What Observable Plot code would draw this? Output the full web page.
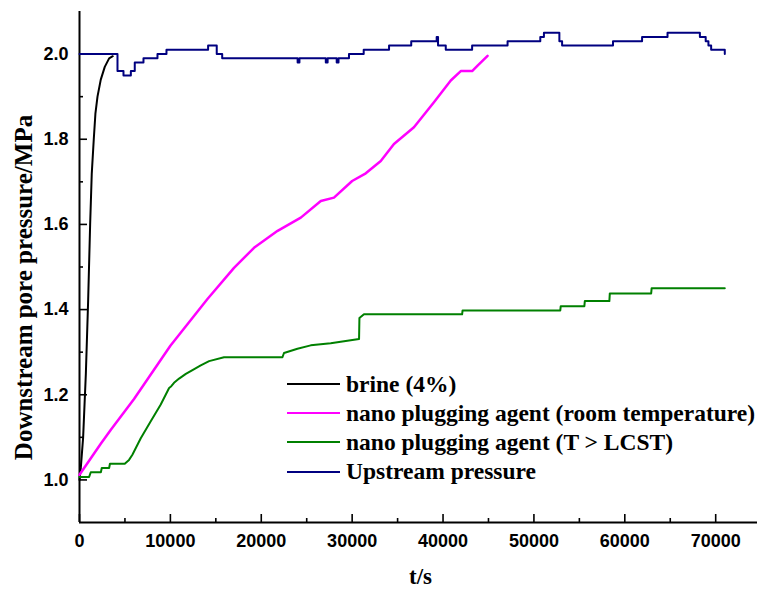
<!DOCTYPE html>
<html><head><meta charset="utf-8">
<script src="https://cdn.jsdelivr.net/npm/d3@7"></script>
<script src="https://cdn.jsdelivr.net/npm/@observablehq/plot@0.6"></script>
<style>
body{margin:0;background:#fff;}
#wrap{position:relative;width:757px;height:589px;overflow:hidden;}
#legend{position:absolute;left:287px;top:369.5px;font-family:"Liberation Serif",Tinos,"Times New Roman",Times,"DejaVu Serif","Noto Serif",serif;font-weight:bold;font-size:23.5px;color:#000;white-space:nowrap;}
.row{display:flex;align-items:center;height:29.2px;}
.sw{width:53px;height:2px;margin-right:6px;flex:none;}
</style></head>
<body><div id="wrap"></div>
<script>
// ---- data ----
const seriesNames = ["brine (4%)", "nano plugging agent (room temperature)", "nano plugging agent (T > LCST)", "Upstream pressure"];
const seriesColors = ["#000000", "#ff00ff", "#008000", "#000080"];

const brineT = [0,150,400,700,950,1170,1350,1570,1750,1980,2340,2780,3260,3660];
const brineP = [1.0,1.03,1.1,1.25,1.42,1.6,1.72,1.8,1.86,1.9,1.94,1.97,1.99,1.995];

const roomT = [0,2340,3450,6000,10000,14080,17000,19200,21800,24350,26550,28000,30000,31500,33150,34600,36800,39000,40850,41950,43200,43800,44900];
const roomP = [1.012,1.085,1.118,1.19,1.315,1.425,1.498,1.545,1.585,1.616,1.655,1.663,1.702,1.72,1.749,1.789,1.828,1.887,1.938,1.96,1.96,1.973,1.996];

const lcstT = [0,1060,1240,2350,2450,3260,3350,4980,5450,5820,6740,7840,8940,9860,10100,10400,10960,11700,12430,13340,14260,15900,22330,22500,23980,25440,27640,30760,30800,31300,42100,42150,52900,52950,55550,55600,58300,58350,62900,62950,71000];
const lcstP = [1.007,1.007,1.018,1.018,1.028,1.028,1.038,1.038,1.047,1.059,1.098,1.138,1.177,1.216,1.22,1.228,1.238,1.249,1.258,1.269,1.279,1.288,1.288,1.298,1.308,1.316,1.321,1.331,1.38,1.389,1.389,1.398,1.398,1.408,1.408,1.42,1.42,1.438,1.438,1.45,1.45];

const upT = [0,3880,4180,4840,5650,6080,7040,8580,9570,14150,15100,15700,24000,24200,27100,27300,28300,28500,29650,31270,34060,36500,39300,39450,40300,43200,47100,50700,51100,52800,53100,58700,61900,64700,68260,68900,69200,69500,71000];
const upP = [2.0,2.0,1.96,1.95,1.96,1.98,1.99,2.0,2.01,2.02,2.0,1.99,1.98,1.99,1.98,1.99,1.98,1.99,2.0,2.01,2.02,2.03,2.04,2.02,2.01,2.02,2.03,2.04,2.05,2.03,2.02,2.03,2.04,2.05,2.04,2.03,2.02,2.01,2.0];

const xMajor = [0,10000,20000,30000,40000,50000,60000,70000];
const xMinor = [5000,15000,25000,35000,45000,55000,65000];
const yMajor = [1.0,1.2,1.4,1.6,1.8,2.0];
const yMinor = [1.1,1.3,1.5,1.7,1.9];
const xLabel = "t/s";
const yLabel = "Downstream pore pressure/MPa";

// ---- chart ----
const W=757,H=589,mL=79,mT=11,mB=67,mR=0;
const fw=W-mL-mR, fh=H-mT-mB;
const toRows = (T,P)=>T.map((t,i)=>({t,p:P[i]}));
const brine = toRows(brineT,brineP), room = toRows(roomT,roomP), lcst = toRows(lcstT,lcstP), up = toRows(upT,upP);
const sans = "'Liberation Sans', Arial, Helvetica, sans-serif";
const serif = "'Liberation Serif', Tinos, 'Times New Roman', Times, 'DejaVu Serif', 'Noto Serif', serif";

const chart = Plot.plot({
  width:W,height:H,marginLeft:mL,marginTop:mT,marginBottom:mB,marginRight:mR,
  x:{domain:[0,74600]}, y:{domain:[0.9,2.1]},
  style:{fontFamily:sans,fontWeight:"bold",fontSize:"18px",color:"#000",background:"#fff",overflow:"visible"},
  marks:[
    Plot.axisX(xMajor,{tickSize:0,tickPadding:12,label:null,fontSize:18,fontWeight:"bold",tickFormat:d=>String(d)}),
    Plot.axisY(yMajor,{tickSize:0,tickPadding:11,label:null,fontSize:18,fontWeight:"bold",tickFormat:d=>d.toFixed(1)}),
    Plot.tickX(xMajor,{x:d=>d,insetTop:fh-8,stroke:"#000",strokeWidth:1.6}),
    Plot.tickX(xMinor,{x:d=>d,insetTop:fh-4,stroke:"#000",strokeWidth:1.6}),
    Plot.tickY(yMajor,{y:d=>d,insetRight:fw-8,stroke:"#000",strokeWidth:1.6}),
    Plot.tickY(yMinor,{y:d=>d,insetRight:fw-4,stroke:"#000",strokeWidth:1.6}),
    Plot.ruleX([0],{stroke:"#000",strokeWidth:2}),
    Plot.ruleY([0.9],{stroke:"#000",strokeWidth:2}),
    Plot.line(brine,{x:"t",y:"p",stroke:seriesColors[0],strokeWidth:2}),
    Plot.line(room,{x:"t",y:"p",stroke:seriesColors[1],strokeWidth:2.5}),
    Plot.line(lcst,{x:"t",y:"p",stroke:seriesColors[2],strokeWidth:2}),
    Plot.line(up,{x:"t",y:"p",curve:"step-after",stroke:seriesColors[3],strokeWidth:2}),
    Plot.text([xLabel],{frameAnchor:"bottom",textAnchor:"middle",lineAnchor:"middle",dx:2,dy:54,fontSize:23,fontWeight:"bold",fontFamily:serif,fill:"#000"}),
    Plot.text([yLabel],{frameAnchor:"left",textAnchor:"middle",lineAnchor:"middle",rotate:-90,dx:-56,dy:20.5,fontSize:25,fontWeight:"bold",fontFamily:serif,fill:"#000"})
  ]
});
const wrap=document.getElementById("wrap");
wrap.appendChild(chart);
const leg=document.createElement("div");
leg.id="legend";
seriesNames.forEach((n,i)=>{
  const r=document.createElement("div");r.className="row";
  const s=document.createElement("div");s.className="sw";s.style.background=seriesColors[i];
  const t=document.createElement("span");t.textContent=n;
  r.appendChild(s);r.appendChild(t);leg.appendChild(r);
});
wrap.appendChild(leg);
</script></body></html>
